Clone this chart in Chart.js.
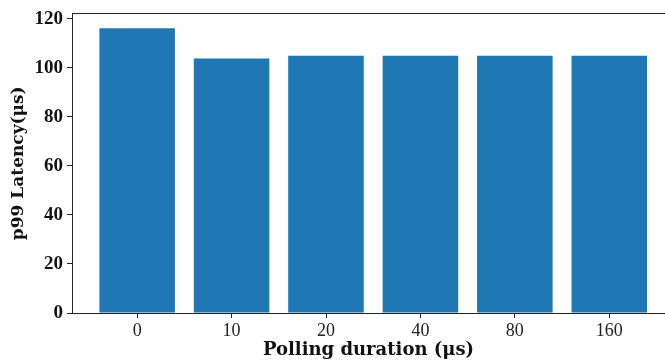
<!DOCTYPE html>
<html>
<head>
<meta charset="utf-8">
<script src="https://cdn.jsdelivr.net/npm/chart.js@4"></script>
<style>
  html, body { margin: 0; padding: 0; background: #fff; overflow: hidden; }
  #wrap { width: 665px; height: 362px; }
</style>
</head>
<body>
<div id="wrap"><canvas id="latency"></canvas></div>
<script>
// polling duration (us) vs p99 latency
var durations = ['0', '10', '20', '40', '80', '160']
var p99_latency = [116.1, 103.8, 104.9, 104.9, 104.9, 104.9]
var y_ticks = [0, 20, 40, 60, 80, 100, 120]

var points = []
for (let i = 0; i < durations.length; i++) {
    points.push({x: i, y: p99_latency[i]})
}

var serif = "'Liberation Serif', 'DejaVu Serif', serif"
var title_font = "'DejaVu Serif', serif"

var ctx = document.getElementById('latency').getContext('2d');
var chart = new Chart(ctx, {
    type: 'bar',
    data: {
        datasets: [{
            data: points,
            backgroundColor: '#1f77b4',
            borderWidth: 0,
            barPercentage: 0.8,
            categoryPercentage: 1.0
        }]
    },
    options: {
        responsive: true,
        maintainAspectRatio: false,
        animation: false,
        layout: {padding: {top: 13, right: 0, left: 0, bottom: 0}},
        plugins: {legend: {display: false}, tooltip: {enabled: false}},
        scales: {
            x: {
                type: 'linear',
                offset: false,
                min: -0.69,
                max: 5.59,
                afterBuildTicks: function (scale) {
                    scale.ticks = durations.map(function (d, i) { return {value: i} })
                },
                afterFit: function (scale) { scale.height = 49 },
                ticks: {
                    callback: function (v) { return durations[v] },
                    color: '#222',
                    font: {family: serif, size: 18},
                    padding: 2,
                    maxRotation: 0
                },
                grid: {display: true, offset: false, drawOnChartArea: false, drawTicks: true, tickLength: 5, color: '#222', lineWidth: 1},
                border: {display: true, color: '#222', width: 1},
                title: {
                    display: true,
                    text: 'Polling duration (μs)',
                    color: '#111',
                    font: {family: title_font, size: 18, weight: 'bold'},
                    padding: {top: 0, bottom: 1}
                }
            },
            x2: {
                type: 'linear',
                position: 'top',
                offset: false,
                min: -0.69,
                max: 5.59,
                ticks: {display: false},
                grid: {display: false, drawTicks: false},
                border: {display: true, color: '#222', width: 1},
                afterFit: function (scale) { scale.height = 0 }
            },
            y: {
                min: 0,
                max: 122.1,
                afterBuildTicks: function (scale) {
                    scale.ticks = y_ticks.map(function (v) { return {value: v} })
                },
                afterFit: function (scale) { scale.width = 72 },
                ticks: {
                    color: '#111',
                    font: {family: serif, size: 19, weight: 'bold', lineHeight: 1},
                    padding: 4
                },
                grid: {display: true, drawOnChartArea: false, drawTicks: true, tickLength: 5, color: '#222', lineWidth: 1},
                border: {display: true, color: '#222', width: 1},
                title: {
                    display: true,
                    text: 'p99 Latency(μs)',
                    color: '#111',
                    font: {family: title_font, size: 17, weight: 'bold'},
                    padding: {top: 8, bottom: 2}
                }
            }
        }
    }
});
</script>
</body>
</html>
